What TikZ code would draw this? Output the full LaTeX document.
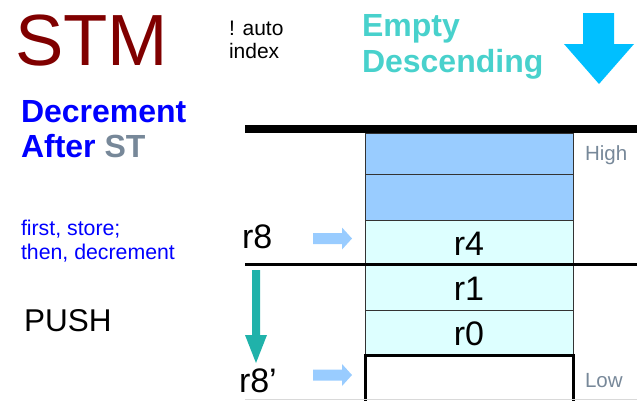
\documentclass[tikz,border=0pt]{standalone}
\usepackage{fontspec}
\setmainfont{Liberation Sans}
\definecolor{stmred}{HTML}{800000}
\definecolor{turq}{HTML}{48D1CC}
\definecolor{skyb}{HTML}{00BFFF}
\definecolor{slateg}{HTML}{778899}
\definecolor{cellblue}{HTML}{99CCFF}
\definecolor{cellcyan}{HTML}{DDFFFF}
\definecolor{teal2}{HTML}{20B2AA}
\definecolor{cellline}{HTML}{333333}
\tikzset{
  txt/.style={anchor=base west, inner sep=0pt, outer sep=0pt},
  cell/.style={draw=cellline, line width=1pt, anchor=north west, inner sep=0pt, outer sep=0pt,
    minimum width=208pt, text height=26pt, text depth=0pt,
    font=\fontsize{34}{38}\selectfont},
  bluecell/.style={cell, fill=cellblue},
  cyancell/.style={cell, fill=cellcyan},
  sepline/.style={line cap=butt},
  ptr/.style={fill=cellblue},
}
\begin{document}
\begin{tikzpicture}[x=1pt,y=-1pt]
\useasboundingbox (0,0) rectangle (637,400);
\clip (0,0) rectangle (637,400);
% titles
\node[txt, text=stmred, font=\fontsize{72.5}{80}\selectfont] (stm) at (15,65) {STM};
\node[txt, font=\fontsize{21}{23}\selectfont] (auto) at (229,35) {! auto};
\node[txt, font=\fontsize{21}{23}\selectfont] (index) at (229,58) {index};
\node[txt, text=turq, font=\bfseries\fontsize{32}{36}\selectfont] (empty) at (362,36) {Empty};
\node[txt, text=turq, font=\bfseries\fontsize{32}{36}\selectfont] (desc) at (362,72) {Descending};
\node[txt, text=blue, font=\bfseries\fontsize{32}{36}\selectfont] (decr) at (21,122) {Decrement};
\node[txt, text=blue, font=\bfseries\fontsize{32}{36}\selectfont] (after) at (21,157) {After \textcolor{slateg}{ST}};
\node[txt, text=blue, font=\fontsize{21.3}{24}\selectfont] (first) at (21,235) {first, store;};
\node[txt, text=blue, font=\fontsize{21.3}{24}\selectfont] (then) at (21,259) {then, decrement};
\node[txt, font=\fontsize{31.5}{34}\selectfont] (push) at (24,331) {PUSH};
\node[txt, font=\fontsize{34}{38}\selectfont] (r8) at (242,248) {r8};
\node[txt, font=\fontsize{34}{38}\selectfont] (r8p) at (239,392) {r8’};
\node[txt, text=slateg, font=\fontsize{20.5}{24}\selectfont] (high) at (585,160) {High};
\node[txt, text=slateg, font=\fontsize{20.5}{24}\selectfont] (low) at (585,387) {Low};
% big direction arrow
\fill[skyb] (583,13) -- (614,13) -- (614,44) -- (634,44) -- (599,84) -- (564,44) -- (583,44) -- cycle;
% stack cells
\node[bluecell, minimum height=41pt] (c1) at (365,133) {};
\node[bluecell, minimum height=46pt] (c2) at (365,174) {};
\node[cyancell, minimum height=44pt] (c3) at (365,220) {r4};
\node[cyancell, minimum height=46pt] (c4) at (365,264) {r1};
\node[cyancell, minimum height=45pt] (c5) at (365,310) {r0};
\node[draw=black, line width=3pt, fill=white, anchor=north west, minimum width=208pt, minimum height=60pt, inner sep=0pt, outer sep=0pt] (c6) at (365,355) {};
% separator lines
\coordinate (topL) at (245,129);
\coordinate (topR) at (637,129);
\coordinate (midL) at (245,264);
\coordinate (midR) at (637,264);
\coordinate (botL) at (245,399.5);
\coordinate (botR) at (637,399.5);
\draw[line width=8pt, sepline] (topL) -- (topR);
\draw[line width=3pt, sepline] (midL) -- (midR);
\draw[line width=0.8pt, black!15] (botL) -- (botR);
% pointer arrows
\fill[ptr] (313,233) -- (342,233) -- (342,227.5) -- (352,238.5) -- (342,249.5) -- (342,244) -- (313,244) -- cycle;
\fill[ptr] (313,369.5) -- (342,369.5) -- (342,364) -- (352,375) -- (342,386) -- (342,380.5) -- (313,380.5) -- cycle;
% decrement arrow
\fill[teal2] (252,270) -- (260,270) -- (260,335) -- (267,335) -- (256,363) -- (245,335) -- (252,335) -- cycle;
\end{tikzpicture}
\end{document}
